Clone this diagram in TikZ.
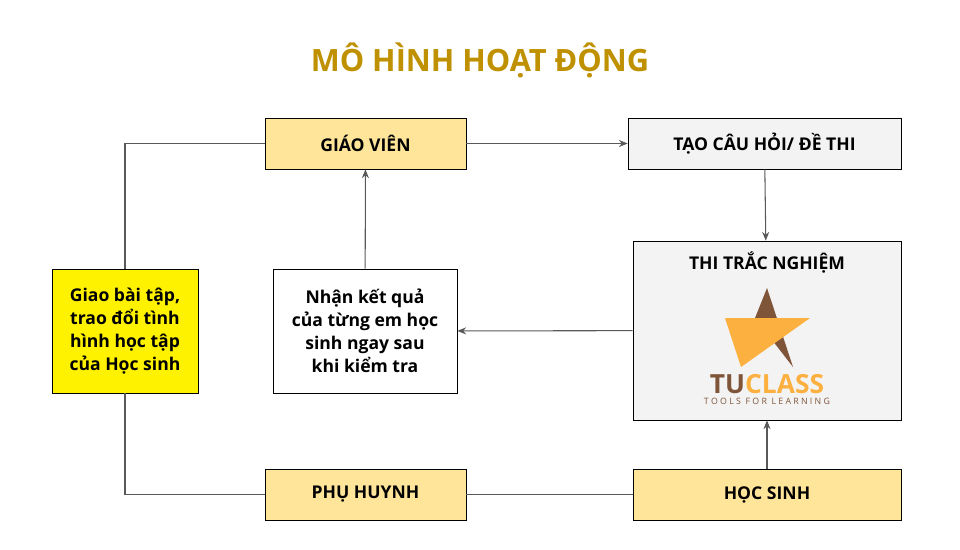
\documentclass[tikz,border=0pt]{standalone}
\usepackage{fontspec}
\setmainfont{Open Sans}
\usetikzlibrary{positioning,arrows.meta}
\definecolor{gold}{HTML}{BF9000}
\definecolor{pale}{HTML}{FFE599}
\definecolor{grey}{HTML}{F3F3F3}
\definecolor{brn}{HTML}{7F5539}
\definecolor{org}{HTML}{FBB040}
\tikzset{
  bx/.style={rectangle, draw=black, fill=pale, font=\bfseries\fontsize{10}{12}\selectfont, text centered, inner sep=0pt},
  gbx/.style={bx, fill=grey},
  wbx/.style={bx, fill=white, align=center, font=\bfseries\fontsize{10}{13}\selectfont},
  ln/.style={draw=black!65, line width=0.6pt},
  ar/.style={ln, -{Stealth[length=5pt,width=4pt]}}
}
\begin{document}
\begin{tikzpicture}[x=0.02cm,y=-0.02cm]
	\useasboundingbox (0,0) rectangle (960,549);
	\node[font=\bfseries\fontsize{17.5}{20}\selectfont, text=gold] (title) at (480,60) {MÔ HÌNH HOẠT ĐỘNG};
	\node[bx, minimum width=4.02cm, minimum height=1.02cm] (gv) at (365.5,143.5) {GIÁO VIÊN};
	\node[gbx, minimum width=5.46cm, minimum height=1.02cm] (tao) at (764.5,143.5) {TẠO CÂU HỎI/ ĐỀ THI};
	\node[gbx, minimum width=5.36cm, minimum height=3.58cm] (thi) at (767,330.5) {};
	\node[font=\bfseries\fontsize{10}{12}\selectfont] (thit) at (767,262) {THI TRẮC NGHIỆM};
	\node[wbx, minimum width=3.68cm, minimum height=2.48cm] (nhan) at (365,331) {Nhận kết quả\\của từng em học\\sinh ngay sau\\khi kiểm tra};
	\node[wbx, fill=yellow, minimum width=2.92cm, minimum height=2.48cm] (giao) at (125,331) {Giao bài tập,\\trao đổi tình\\hình học tập\\của Học sinh};
	\node[bx, minimum width=4.02cm, minimum height=1.02cm] (ph) at (365.5,494.5) {PHỤ HUYNH};
	\node[bx, minimum width=5.36cm, minimum height=1.02cm] (hs) at (767,494.5) {HỌC SINH};
	% logo
	\fill[brn] (767,288) -- (755,318) -- (793,367) -- cycle;
	\fill[org] (725,318) -- (810,318) -- (741,367) -- cycle;
	\node[font=\bfseries\fontsize{15}{16}\selectfont, inner sep=0pt] (logo) at (767,384) {\textcolor{brn}{TU}\textcolor{org}{CLASS}};
	\node[font=\fontsize{5}{6}\selectfont, text=brn, inner sep=0pt] (tag) at (767,401) {T O O L S\ \ F O R\ \ L E A R N I N G};
	%
	\draw[ar] (gv) -- (tao);
	\draw[ar] (tao) -- (thi);
	\draw[ar] (thi) -- (nhan);
	\draw[ar] (nhan) -- (gv);
	\draw[ar] (hs) -- (thi);
	\draw[ln] (ph) -- (hs);
	\draw[ln] (gv) -| (giao);
	\draw[ln] (giao) |- (ph);
\end{tikzpicture}
\end{document}
